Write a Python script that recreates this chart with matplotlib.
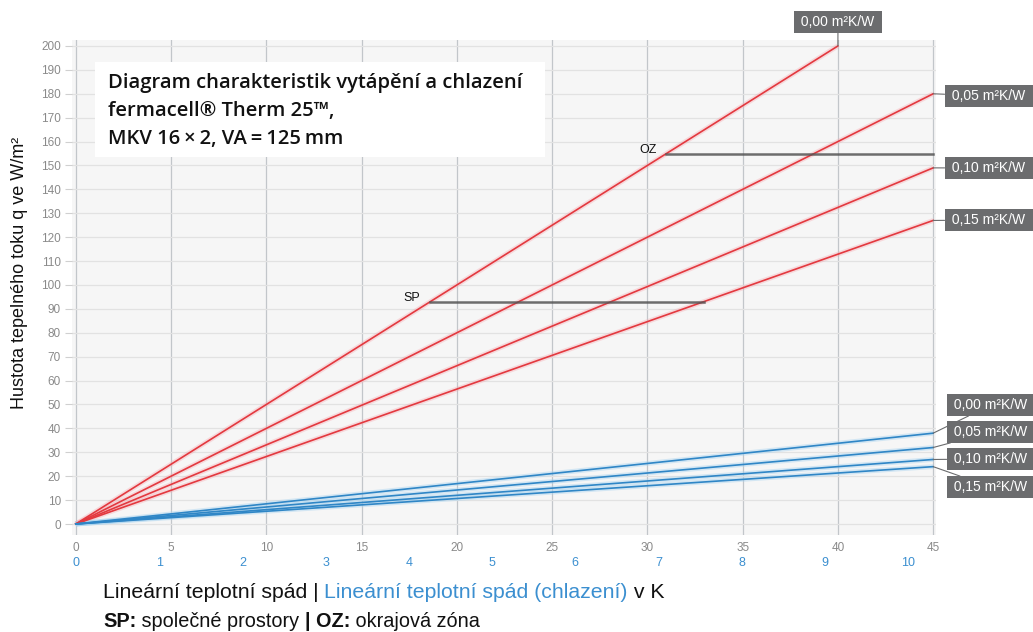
import numpy as np
import matplotlib.pyplot as plt
from matplotlib.patches import Rectangle

plt.rcParams['font.family'] = ['Liberation Sans', 'DejaVu Sans']

W, H = 1033, 632

# vytapeni (cervene primky) - koncovy bod kazde primky
r_labels = ['0,00 m²K/W', '0,05 m²K/W', '0,10 m²K/W', '0,15 m²K/W']
r_dt_end = [40, 45, 45, 45]
r_q_end = [200, 180, 149, 127]

# chlazeni (modre primky) - hodnota q na konci osy (45 K na horni stupnici)
c_labels = ['0,00 m²K/W', '0,05 m²K/W', '0,10 m²K/W', '0,15 m²K/W']
c_q_end = [38, 32, 27, 24]

# SP / OZ
sp_q = 93
oz_q = 155

x_ticks = list(range(0, 50, 5))
y_ticks = list(range(0, 210, 10))
c_ticks = list(range(0, 11))
c_scale = 4.37          # 1 K chlazeni = 4.37 K na horni stupnici

RED = '#e3393f'
BLUE = '#2f86c6'
BOX = '#6b6c6e'


def fx(px):
    return px / W


def fy(py):
    return 1 - py / H


fig = plt.figure(figsize=(W / 100, H / 100), dpi=100)
ax = fig.add_axes([fx(72), fy(535), (936 - 72) / W, (535 - 40) / H])
ax.set_facecolor('#f6f6f6')
ax.set_xlim(-0.2, 45.15)
ax.set_ylim(-4.6, 202.5)
for s in ax.spines.values():
    s.set_visible(False)

ax.set_xticks(x_ticks)
ax.set_yticks(y_ticks)
ax.tick_params(axis='x', length=0, pad=5, labelsize=8.5, labelcolor='#8a8a8a')
ax.tick_params(axis='y', length=5, color='#d0d0d0', pad=3, labelsize=8.5, labelcolor='#8a8a8a')
ax.grid(axis='x', color='#c2c6ca', lw=0.9)
ax.grid(axis='y', color='#e2e2e2', lw=0.9)
ax.set_axisbelow(True)

# cervene primky
for dt, q in zip(r_dt_end, r_q_end):
    ax.plot([0, dt], [0, q], color='#f6a5ad', lw=3.5, alpha=0.35, solid_capstyle='butt', zorder=2)
    ax.plot([0, dt], [0, q], color=RED, lw=1.2, zorder=3)

# modre primky
for q in c_q_end:
    ax.plot([0, 45], [0, q], color='#a9d4f0', lw=3.5, alpha=0.45, solid_capstyle='butt', zorder=2)
    ax.plot([0, 45], [0, q], color=BLUE, lw=1.2, zorder=3)

# SP a OZ
sp_x0 = sp_q / (r_q_end[0] / r_dt_end[0])
sp_x1 = sp_q / (r_q_end[3] / r_dt_end[3])
ax.plot([sp_x0, sp_x1], [sp_q, sp_q], color='#555555', lw=1.8, alpha=0.85, zorder=4)
ax.text(sp_x0 - 0.5, sp_q + 1.5, 'SP', ha='right', va='center', fontsize=9, color='#111111')
oz_x0 = oz_q / (r_q_end[0] / r_dt_end[0])
ax.plot([oz_x0, 45], [oz_q, oz_q], color='#555555', lw=1.8, alpha=0.85, zorder=4)
ax.text(oz_x0 - 0.5, oz_q + 1.5, 'OZ', ha='right', va='center', fontsize=9, color='#111111')

# modra stupnice (chlazeni)
for c in c_ticks:
    ax.text(c * c_scale, -0.057, str(c), transform=ax.get_xaxis_transform(),
            ha='center', va='center', fontsize=9, color='#3b8fd0')

# stitky primek
bbox = dict(boxstyle='square,pad=0.28', fc=BOX, ec='none')
arrow = dict(arrowstyle='-', color=BOX, lw=0.8, shrinkA=0, shrinkB=0)
r_pos = [(838, 22), (989, 96), (989, 168), (989, 220)]
for lab, dt, q, (px, py) in zip(r_labels, r_dt_end, r_q_end, r_pos):
    ax.annotate(' ' + lab + ' ', xy=(dt, q), xytext=(fx(px), fy(py)), textcoords='figure fraction',
                ha='center', va='center', fontsize=10, color='white', bbox=bbox,
                arrowprops=arrow, annotation_clip=False, zorder=6)
c_pos = [(991, 405), (991, 432), (991, 459), (991, 487)]
for lab, q, (px, py) in zip(c_labels, c_q_end, c_pos):
    ax.annotate(' ' + lab + ' ', xy=(45, q), xytext=(fx(px), fy(py)), textcoords='figure fraction',
                ha='center', va='center', fontsize=10, color='white', bbox=bbox,
                arrowprops=arrow, annotation_clip=False, zorder=6)

# titulek v bilem boxu
fig.patches.append(Rectangle((fx(95), fy(157)), (545 - 95) / W, (157 - 62) / H,
                             transform=fig.transFigure, fc='white', ec='none', zorder=5))
title = ['Diagram charakteristik vytápění a chlazení',
         'fermacell® Therm 25™,',
         'MKV 16\u2009×\u20092, VA\u2009=\u2009125\u2009mm']
for i, t in enumerate(title):
    fig.text(fx(108), fy(88 + 28 * i), t, ha='left', va='baseline', fontsize=14.5,
             fontweight='semibold', color='#111111', zorder=6,
             family=['Open Sans', 'DejaVu Sans'])

# popisek osy y
fig.text(fx(20), fy(273), 'Hustota tepelného toku q ve W/m²', rotation=90,
         ha='center', va='center', fontsize=13, color='#111111')

# popisek osy x - skladany z vice barev
fig.canvas.draw()
renderer = fig.canvas.get_renderer()


def run_text(parts, x0, y0, size):
    x = x0
    for s, col, wt in parts:
        t = fig.text(fx(x), fy(y0), s, ha='left', va='baseline', fontsize=size,
                     color=col, fontweight=wt)
        x += t.get_window_extent(renderer).width


run_text([('Lineární teplotní spád | ', '#111111', 'normal'),
          ('Lineární teplotní spád (chlazení)', '#3b8fd0', 'normal'),
          (' v K', '#111111', 'normal')], 103, 598, 15.3)
run_text([('SP:', '#111111', 'bold'),
          (' společné prostory ', '#111111', 'normal'),
          ('| OZ:', '#111111', 'bold'),
          (' okrajová zóna', '#111111', 'normal')], 103, 627, 14.3)

fig.savefig('out.png', dpi=100)
